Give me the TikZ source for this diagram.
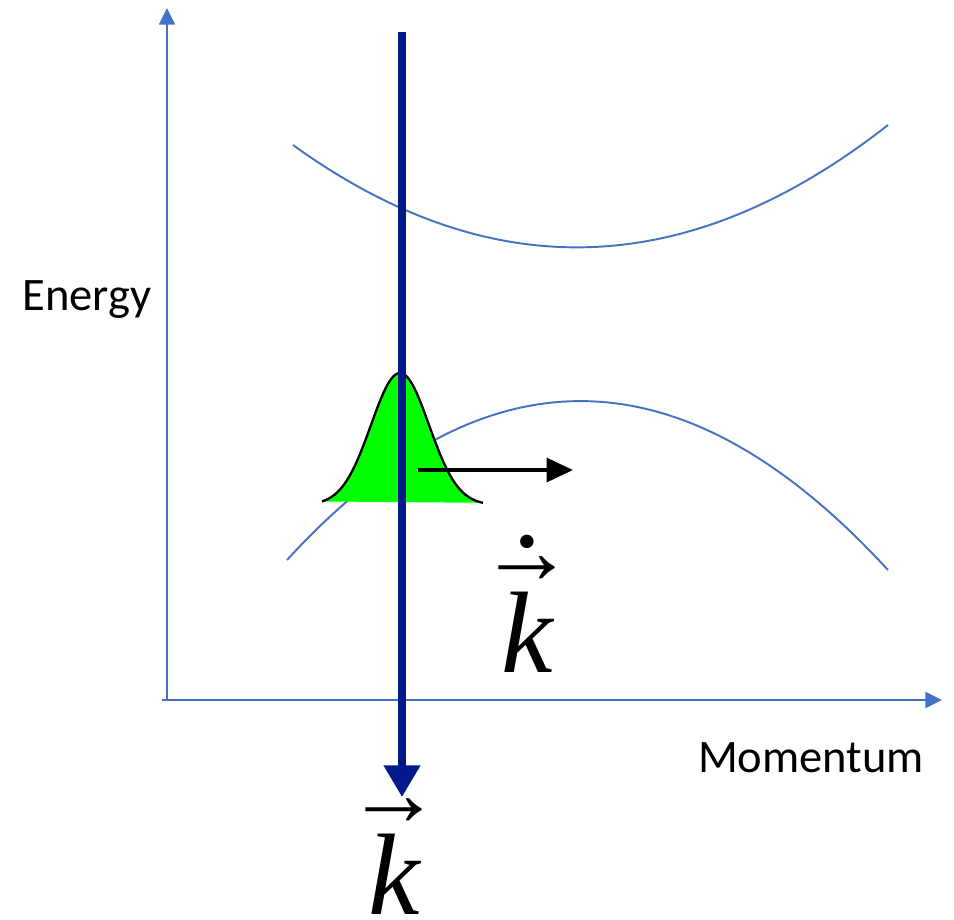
\documentclass[tikz,border=0pt]{standalone}
\usepackage{fontspec}
\setmainfont{Carlito}
\newfontfamily\kfont{Liberation Serif}
\newcommand{\kvecfont}{\kfont\fontsize{66}{66}\selectfont\lineskiplimit=-100pt\relax}
\usetikzlibrary{arrows.meta}
\definecolor{axisblue}{RGB}{68,114,196}
\definecolor{navyline}{RGB}{0,26,140}
\definecolor{packetgreen}{RGB}{0,255,0}

\begin{document}
\begin{tikzpicture}[x=0.02cm, y=-0.02cm,
		axis/.style={axisblue, line width=1.3pt, -{Triangle[length=9.5pt, width=9pt]}},
		band/.style={axisblue, line width=1.1pt},
		probe/.style={navyline, line width=4pt, -{Triangle[length=18pt, width=20pt]}},
		moveline/.style={black, line width=2.3pt, -{Triangle[length=15pt, width=13.5pt]}},
		lbl/.style={font=\fontsize{26.5}{30}\selectfont, inner sep=0pt, anchor=base},
		kvec/.style={font=\kvecfont, align=center, inner sep=0pt, anchor=south}
		]
		\useasboundingbox (0,0) rectangle (954,920);
		
		% axes
		\coordinate (origin) at (167,700);
		\coordinate (ytop) at (167,8);
		\coordinate (xleft) at (162,700);
		\coordinate (xright) at (942,700);
		\draw[axis] (origin) -- (ytop);
		\draw[axis] (xleft) -- (xright);
		
		\node[lbl] (energy) at (87,310) {Energy};
		\node[lbl] (momentum) at (811,772) {Momentum};
		
		% bands
		\draw[band] (293,145) .. controls (491,288) and (689,281) .. (888,125);
		\draw[band] (287,560) .. controls (484,345) and (684,348) .. (888,570);
		
		% wave packet
		\fill[packetgreen] plot[domain=-78:83, samples=80] ({400+\x},{505-132*exp(-(\x*\x)/(2*29*29))}) -- cycle;
		\draw[black, line width=1.3pt] plot[domain=-78:83, samples=80] ({400+\x},{505-132*exp(-(\x*\x)/(2*29*29))});
		
		% probe line
		\coordinate (probetop) at (402,32);
		\coordinate (probetip) at (402,797);
		\draw[probe] (probetop) -- (probetip);
		
		% packet motion
		\coordinate (movestart) at (418,470);
		\coordinate (moveend) at (573,470);
		\draw[moveline] (movestart) -- (moveend);
		
		\node[kvec] (kdot) at (527,673) {{\fontsize{32}{32}\selectfont •}\\[-53pt]{\fontsize{54}{54}\selectfont →}\\[-15pt]\itshape k};
		\node[kvec] (kvec) at (394,915) {{\fontsize{54}{54}\selectfont →}\\[-15pt]\itshape k};
		
	\end{tikzpicture}
\end{document}
